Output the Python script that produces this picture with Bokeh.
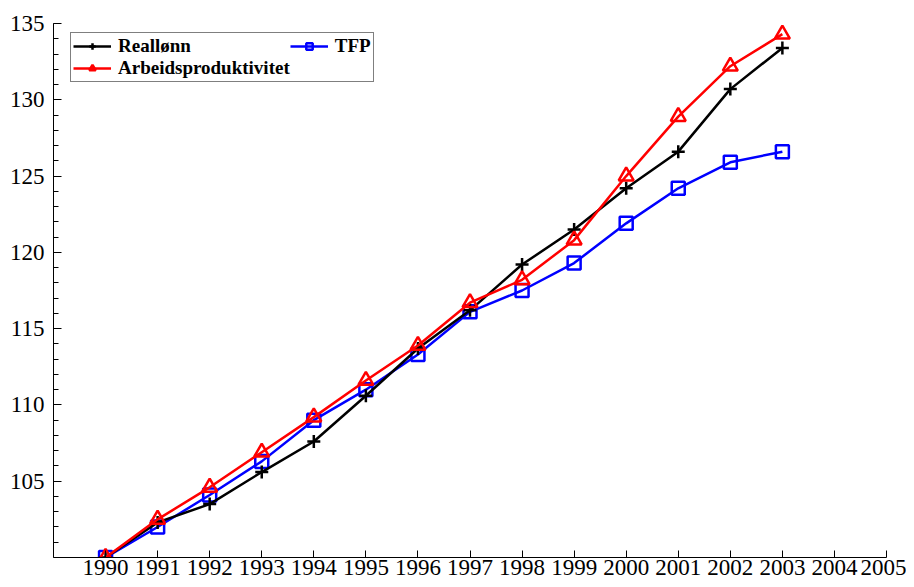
from bokeh.plotting import figure
from bokeh.models import FixedTicker, Legend, LegendItem, Range1d
from bokeh.embed import file_html
from bokeh.resources import INLINE

years = [1990, 1991, 1992, 1993, 1994, 1995, 1996, 1997, 1998, 1999, 2000, 2001, 2002, 2003]
reallonn = [100.0, 102.3, 103.5, 105.6, 107.6, 110.6, 113.7, 116.2, 119.2, 121.5, 124.2, 126.6, 130.7, 133.4]
arbeidsprod = [100.0, 102.5, 104.6, 106.9, 109.2, 111.6, 113.9, 116.7, 118.2, 120.8, 125.0, 128.9, 132.2, 134.3]
tfp = [100.0, 102.0, 104.1, 106.3, 109.0, 111.0, 113.3, 116.1, 117.5, 119.3, 121.9, 124.2, 125.9, 126.6]

x_ticks = list(range(1990, 2006))
y_ticks = [105, 110, 115, 120, 125, 130, 135]
y_minor = list(range(100, 136))

FONT = "Liberation Serif"

p = figure(width=906, height=585, output_backend="svg", toolbar_location=None,
           x_range=Range1d(1989, 2005), y_range=Range1d(100, 135),
           min_border_left=53, min_border_right=20, min_border_top=23, min_border_bottom=28)
p.outline_line_color = None
p.grid.visible = False
p.background_fill_color = "white"

for ax in (p.xaxis[0], p.yaxis[0]):
    ax.axis_line_color = "black"
    ax.axis_line_width = 1
    ax.major_tick_line_color = "black"
    ax.minor_tick_line_color = "black"
    ax.major_tick_out = 0
    ax.minor_tick_out = 0
    ax.major_label_text_font = FONT
    ax.major_label_text_font_size = "23px"
    ax.major_label_text_color = "black"

p.xaxis.ticker = FixedTicker(ticks=x_ticks)
p.xaxis.major_tick_in = 7
p.xaxis.minor_tick_in = 0
p.xaxis.major_label_standoff = 2

p.yaxis.ticker = FixedTicker(ticks=y_ticks, minor_ticks=y_minor)
p.yaxis.major_tick_in = 8
p.yaxis.minor_tick_in = 5
p.yaxis.major_label_standoff = 9

l_tfp = p.line(years, tfp, line_color="blue", line_width=2.5)
m_tfp = p.scatter(years, tfp, marker="square", size=13, line_color="blue", line_width=2.5, fill_color="white", fill_alpha=0)
l_re = p.line(years, reallonn, line_color="black", line_width=2.5)
m_re = p.scatter(years, reallonn, marker="cross", size=13, line_color="black", line_width=2.5)
l_ar = p.line(years, arbeidsprod, line_color="red", line_width=2.5)
m_ar = p.scatter(years, arbeidsprod, marker="triangle", size=15, line_color="red", line_width=2.5, fill_color="white", fill_alpha=0)

legend = Legend(items=[
    LegendItem(label="Reallønn", renderers=[l_re, m_re]),
    LegendItem(label="Arbeidsproduktivitet", renderers=[l_ar, m_ar]),
    LegendItem(label="TFP", renderers=[l_tfp, m_tfp]),
], nrows=2, location=(17, 475))
legend.label_text_font = FONT
legend.label_text_font_style = "bold"
legend.label_text_font_size = "19px"
legend.label_text_color = "black"
legend.border_line_color = "black"
legend.border_line_width = 1
legend.padding = 2
legend.spacing = 0
legend.margin = 0
legend.glyph_width = 38
legend.glyph_height = 16
legend.label_height = 16
legend.label_standoff = 7
legend.background_fill_alpha = 1
p.add_layout(legend)

open("out.html", "w").write(file_html(p, INLINE))
